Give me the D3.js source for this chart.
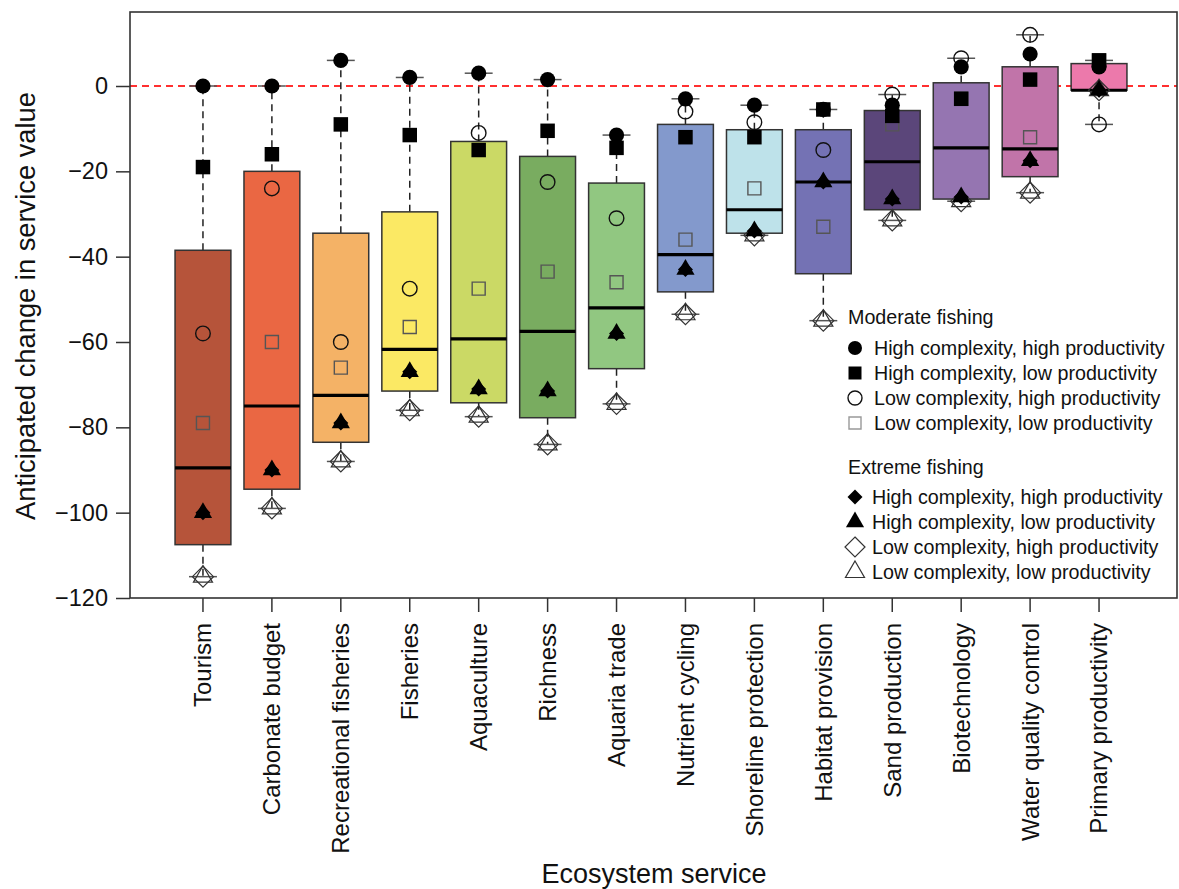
<!DOCTYPE html>
<html>
<head>
<meta charset="utf-8">
<script src="https://cdn.jsdelivr.net/npm/d3@7"></script>
<style>
  html, body { margin: 0; padding: 0; background: #fff; }
  svg { display: block; font-family: "Liberation Sans", Arial, sans-serif; }
</style>
</head>
<body>
<svg id="chart" width="1179" height="889"></svg>
<script>
// Ecosystem services, ordered by median anticipated change
const categories = [
  "Tourism", "Carbonate budget", "Recreational fisheries", "Fisheries",
  "Aquaculture", "Richness", "Aquaria trade", "Nutrient cycling",
  "Shoreline protection", "Habitat provision", "Sand production",
  "Biotechnology", "Water quality control", "Primary productivity"
];

// Box fill per service
const boxColors = [
  "#b6543a", "#ea6743", "#f4b266", "#fbe964", "#cbd965", "#79ac60", "#91c781",
  "#8399cc", "#bee2ea", "#7472b4", "#5b467a", "#9575b1", "#c174a9", "#ec79ab"
];

// Moderate fishing scenarios (% change)
const modHighCxHighProd = [0, 0, 6, 2, 3, 1.5, -11.5, -3, -4.5, -5.5, -4.5, 4.5, 7.5, 4.5];
const modHighCxLowProd  = [-19, -16, -9, -11.5, -15, -10.5, -14.5, -12, -12, -5.5, -7, -3, 1.5, 6];
const modLowCxHighProd  = [-58, -24, -60, -47.5, -11, -22.5, -31, -6, -8.5, -15, -2, 6.5, 12, -9];
const modLowCxLowProd   = [-79, -60, -66, -56.5, -47.5, -43.5, -46, -36, -24, -33, -9, -3, -12, 6];

// Extreme fishing scenarios (% change)
const extHighCxHighProd = [-100, -90, -79, -67, -71, -71.5, -58, -43, -34, -22.5, -26.5, -26, -17.5, -1];
const extHighCxLowProd  = [-100, -90, -79, -67, -71, -71.5, -58, -43, -34, -22.5, -26.5, -26, -17.5, -1];
const extLowCxHighProd  = [-115, -99, -88, -76, -77.5, -84, -74.5, -53.5, -35, -55, -31.5, -27, -25, -1];
const extLowCxLowProd   = [-115, -99, -88, -76, -77.5, -84, -74.5, -53.5, -35, -55, -31.5, -27, -25, -1];

const yTicks = [0, -20, -40, -60, -80, -100, -120];

const legendModerate = [
  "High complexity, high productivity", "High complexity, low productivity",
  "Low complexity, high productivity", "Low complexity, low productivity"
];
const legendExtreme = [
  "High complexity, high productivity", "High complexity, low productivity",
  "Low complexity, high productivity", "Low complexity, low productivity"
];

const svg = d3.select("#chart");
const plot = { left: 130, top: 12, right: 1177, bottom: 598 };

const y = d3.scaleLinear().domain([-120, 0]).range([598, 86]);
const x = d3.scaleBand().domain(categories).range([168.5, 1133.5])
  .paddingInner(0.19).paddingOuter(0.095);
const cx = c => x(c) + x.bandwidth() / 2;

// Marker shapes (path strings centred on the origin)
const shape = {
  circle: r => d3.symbol(d3.symbolCircle, Math.PI * r * r)(),
  square: s => d3.symbol(d3.symbolSquare, s * s)(),
  diamond: h => `M0,${-h}L${h},0L0,${h}L${-h},0Z`,
  triangle: r => `M0,${-r}L${r * 0.866},${r / 2}L${-r * 0.866},${r / 2}Z`
};

const series = [
  // drawn first: hollow markers
  { values: modLowCxHighProd,  d: shape.circle(7.3),   fill: "none", stroke: "#111", sw: 1.4 },
  { values: modLowCxLowProd,   d: shape.square(13),    fill: "none", stroke: "#555", sw: 1.4 },
  { values: extLowCxHighProd,  d: shape.diamond(10.5), fill: "none", stroke: "#333", sw: 1.2 },
  { values: extLowCxLowProd,   d: shape.triangle(11),  fill: "none", stroke: "#333", sw: 1.2 },
  // solid markers on top
  { values: extHighCxHighProd, d: shape.diamond(7.5),  fill: "#000", stroke: "none", sw: 0 },
  { values: extHighCxLowProd,  d: shape.triangle(10.5),fill: "#000", stroke: "none", sw: 0 },
  { values: modHighCxHighProd, d: shape.circle(7.6),   fill: "#000", stroke: "none", sw: 0 },
  { values: modHighCxLowProd,  d: shape.square(14.5),  fill: "#000", stroke: "none", sw: 0 }
];

// Tukey five-number summary per service
function fivenum(vals) {
  const s = vals.slice().sort((a, b) => a - b);
  const n = s.length;
  const n4 = Math.floor((n + 3) / 2) / 2;
  const idx = [1, n4, (n + 1) / 2, n + 1 - n4, n];
  return idx.map(i => 0.5 * (s[Math.floor(i) - 1] + s[Math.ceil(i) - 1]));
}

const stats = categories.map((c, i) => {
  const vals = [modHighCxHighProd[i], modHighCxLowProd[i], modLowCxHighProd[i], modLowCxLowProd[i],
                extHighCxHighProd[i], extHighCxLowProd[i], extLowCxHighProd[i], extLowCxLowProd[i]];
  const f = fivenum(vals);
  const iqr = f[3] - f[1];
  const lo = d3.min(vals.filter(v => v >= f[1] - 1.5 * iqr));
  const hi = d3.max(vals.filter(v => v <= f[3] + 1.5 * iqr));
  return { cat: c, q1: f[1], med: f[2], q3: f[3], lo, hi, color: boxColors[i] };
});

// Reference line at zero change
svg.append("line")
  .attr("x1", plot.left).attr("x2", plot.right)
  .attr("y1", y(0)).attr("y2", y(0))
  .attr("stroke", "#ff3030").attr("stroke-width", 1.8)
  .attr("stroke-dasharray", "7,5");

const g = svg.append("g");
const half = x.bandwidth() / 2;

// Whiskers
g.selectAll(".whisk-up").data(stats).join("line")
  .attr("x1", d => cx(d.cat)).attr("x2", d => cx(d.cat))
  .attr("y1", d => y(d.q3)).attr("y2", d => y(d.hi))
  .attr("stroke", "#222").attr("stroke-width", 1.5).attr("stroke-dasharray", "7,5");
g.selectAll(".whisk-dn").data(stats).join("line")
  .attr("x1", d => cx(d.cat)).attr("x2", d => cx(d.cat))
  .attr("y1", d => y(d.q1)).attr("y2", d => y(d.lo))
  .attr("stroke", "#222").attr("stroke-width", 1.5).attr("stroke-dasharray", "7,5");

// Staples
["hi", "lo"].forEach(k => {
  g.selectAll(".staple-" + k).data(stats).join("line")
    .attr("x1", d => cx(d.cat) - half / 2).attr("x2", d => cx(d.cat) + half / 2)
    .attr("y1", d => y(d[k])).attr("y2", d => y(d[k]))
    .attr("stroke", "#555").attr("stroke-width", 1.5);
});

// Boxes
g.selectAll(".box").data(stats).join("rect")
  .attr("x", d => x(d.cat)).attr("width", x.bandwidth())
  .attr("y", d => y(d.q3)).attr("height", d => y(d.q1) - y(d.q3))
  .attr("fill", d => d.color)
  .attr("stroke", "#333").attr("stroke-width", 1.5);

// Medians
g.selectAll(".median").data(stats).join("line")
  .attr("x1", d => x(d.cat)).attr("x2", d => x(d.cat) + x.bandwidth())
  .attr("y1", d => y(d.med)).attr("y2", d => y(d.med))
  .attr("stroke", "#000").attr("stroke-width", 3.2);

// Scenario markers
series.forEach(s => {
  g.append("g").selectAll("path").data(s.values).join("path")
    .attr("d", s.d)
    .attr("transform", (v, i) => `translate(${cx(categories[i])},${y(v)})`)
    .attr("fill", s.fill).attr("stroke", s.stroke).attr("stroke-width", s.sw);
});

// Plot frame
svg.append("rect")
  .attr("x", plot.left).attr("y", plot.top)
  .attr("width", plot.right - plot.left).attr("height", plot.bottom - plot.top)
  .attr("fill", "none").attr("stroke", "#333").attr("stroke-width", 1.6);

// Y axis
const yAxis = svg.append("g").attr("transform", `translate(${plot.left},0)`)
  .call(d3.axisLeft(y).tickValues(yTicks).tickSize(14).tickPadding(8));
yAxis.select(".domain").remove();
yAxis.selectAll(".tick line").attr("stroke", "#333").attr("stroke-width", 1.5);
yAxis.selectAll(".tick text").attr("font-size", 23.5).attr("fill", "#111")
  .attr("font-family", "Liberation Sans, Arial, sans-serif");

// X axis with rotated service names
const xAxis = svg.append("g").attr("transform", `translate(0,${plot.bottom})`)
  .call(d3.axisBottom(x).tickSize(14));
xAxis.select(".domain").remove();
xAxis.selectAll(".tick line").attr("stroke", "#333").attr("stroke-width", 1.5);
xAxis.selectAll(".tick text")
  .attr("transform", "rotate(-90)")
  .attr("x", -25).attr("y", 0).attr("dy", "0.35em")
  .style("text-anchor", "end")
  .attr("font-size", 24).attr("fill", "#111")
  .attr("font-family", "Liberation Sans, Arial, sans-serif");

// Axis titles
svg.append("text")
  .attr("transform", "translate(35,306) rotate(-90)")
  .attr("text-anchor", "middle").attr("font-size", 27.3).attr("fill", "#111")
  .text("Anticipated change in service value");
svg.append("text")
  .attr("x", 654).attr("y", 883)
  .attr("text-anchor", "middle").attr("font-size", 27).attr("fill", "#111")
  .text("Ecosystem service");

// Legend
const legend = svg.append("g").attr("font-size", 19.7).attr("fill", "#111");
const legendShapes = [
  [series[6], series[7], series[0], series[1]],
  [series[4], series[5], series[2], series[3]]
];
const legendBlocks = [
  { title: "Moderate fishing", ty: 317, rows: legendModerate, ry: 348, symX: 855, textX: 874 },
  { title: "Extreme fishing", ty: 467, rows: legendExtreme, ry: 497, symX: 855, textX: 872 }
];
legendBlocks.forEach((b, bi) => {
  legend.append("text").attr("x", 848).attr("y", b.ty).attr("dy", "0.35em").text(b.title);
  b.rows.forEach((label, ri) => {
    const s = legendShapes[bi][ri];
    const yy = b.ry + ri * 25;
    let d = s.d;
    if (bi === 0 && ri === 1) d = shape.square(13);
    if (bi === 0 && ri === 0) d = shape.circle(7);
    if (bi === 0 && ri === 2) d = shape.circle(7);
    if (bi === 0 && ri === 3) d = shape.square(12);
    if (bi === 1 && ri === 0) d = shape.diamond(7.5);
    if (bi === 1 && ri === 2) d = shape.diamond(10);
    if (bi === 1 && ri === 3) d = shape.triangle(11);
    legend.append("path").attr("d", d)
      .attr("transform", `translate(${b.symX},${yy})`)
      .attr("fill", s.fill).attr("stroke", bi === 0 && ri === 3 ? "#999" : s.stroke)
      .attr("stroke-width", s.sw);
    legend.append("text").attr("x", b.textX).attr("y", yy).attr("dy", "0.35em").text(label);
  });
});
</script>
</body>
</html>
